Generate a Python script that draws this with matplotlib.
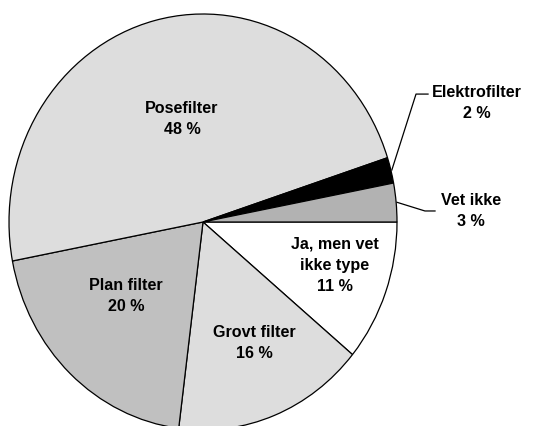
import numpy as np
import matplotlib
matplotlib.use("Agg")
import matplotlib.pyplot as plt

# Filter types (clockwise from 3 o'clock)
categories = ["Ja, men vet\nikke type", "Grovt filter", "Plan filter",
              "Posefilter", "Elektrofilter", "Vet ikke"]
shares = [11, 16, 20, 48, 2, 3]
colors = ["#ffffff", "#dddddd", "#c0c0c0", "#dddddd", "#000000", "#b2b2b2"]

# Label anchor points (data units, pie radius = 1)
label_xy = [(0.680, -0.207), (0.263, -0.582), (-0.397, -0.356),
            (-0.108, 0.495), (1.412, 0.572), (1.381, 0.053)]
# Leader lines for the thin outer slices: index -> (elbow, end)
leaders = {4: ((1.098, 0.615), (1.160, 0.615)),
           5: ((1.144, 0.053), (1.196, 0.053))}

plt.rcParams["font.family"] = ["Liberation Sans", "DejaVu Sans"]

fig = plt.figure(figsize=(5.53, 4.26), dpi=100)
ax = fig.add_axes([0, 0, 1, 1])

wedges, _ = ax.pie(shares, colors=colors, startangle=0, counterclock=False,
                   radius=1.0, center=(0, 0),
                   wedgeprops=dict(edgecolor="black", linewidth=0.9))

ax.set_aspect("auto")
W, H = 553, 426
cx, cy, rx, ry = 203, 222, 194, 208
ax.set_xlim(-cx / rx, (W - cx) / rx)
ax.set_ylim((cy - H) / ry, cy / ry)
ax.axis("off")

for i, (name, val) in enumerate(zip(categories, shares)):
    x, y = label_xy[i]
    ax.text(x, y, f"{name}\n{val} %", ha="center", va="center",
            fontsize=11.6, fontweight="bold", linespacing=1.5, color="black")
    if i in leaders:
        w = wedges[i]
        mid = np.deg2rad((w.theta1 + w.theta2) / 2)
        sx, sy = np.cos(mid) * 1.005, np.sin(mid) * 1.005
        (ex, ey), (tx, ty) = leaders[i]
        ax.plot([sx, ex, tx], [sy, ey, ty], color="black", linewidth=0.9)

fig.savefig("out.png", dpi=100, facecolor="white")
